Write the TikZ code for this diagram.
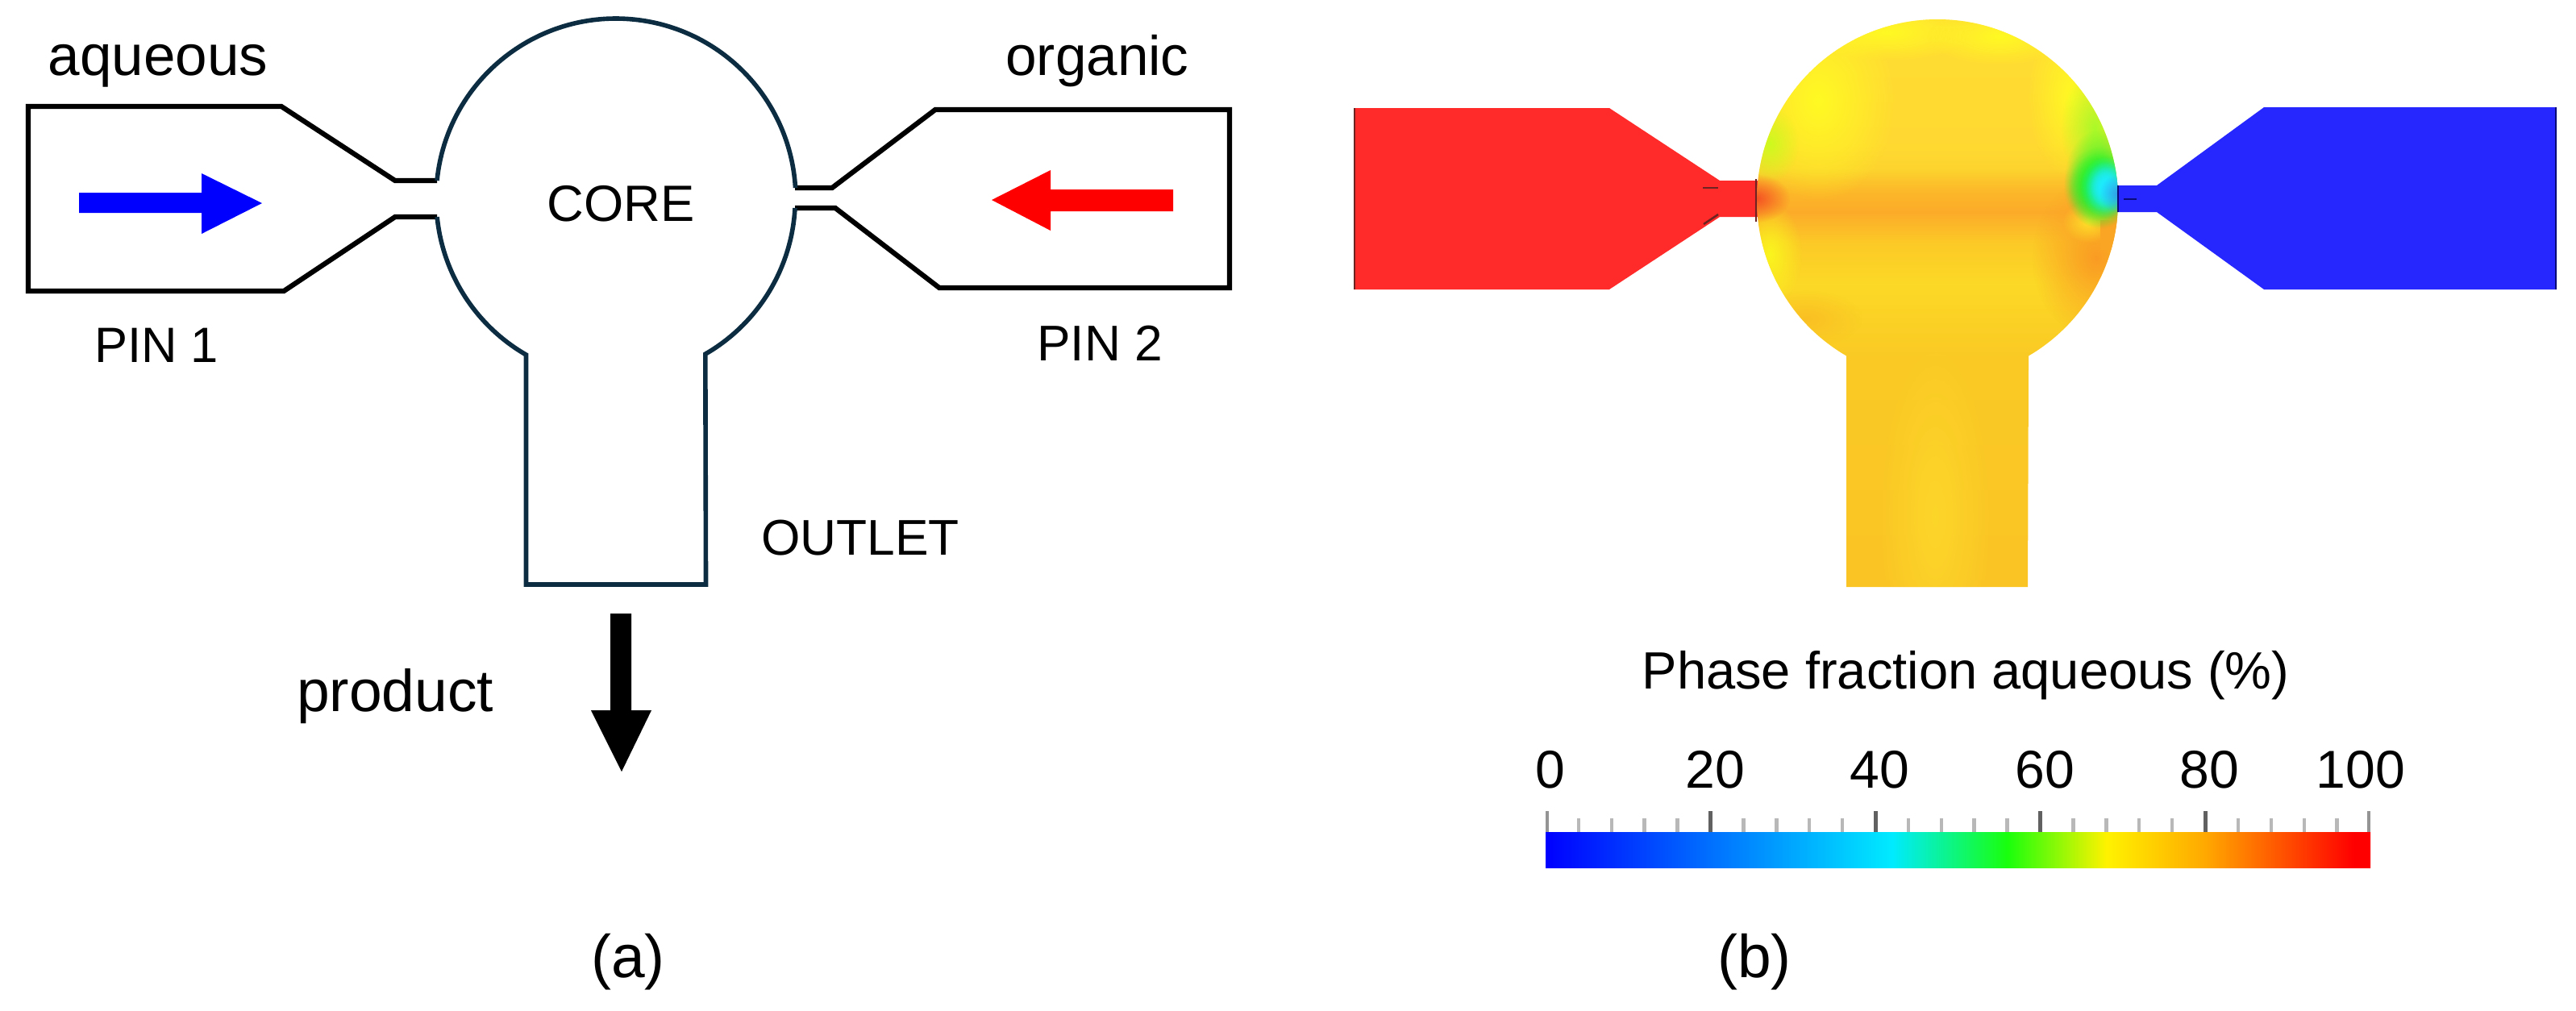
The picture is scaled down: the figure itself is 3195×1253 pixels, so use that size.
\documentclass[tikz,border=0pt]{standalone}
\usepackage{fontspec}
\setmainfont{Liberation Sans}
\usetikzlibrary{fadings}
\definecolor{navy}{RGB}{12,45,65}
\definecolor{simred}{RGB}{255,42,42}
\definecolor{simblue}{RGB}{38,38,255}
\definecolor{edgered}{RGB}{110,35,35}
\definecolor{edgeblue}{RGB}{10,10,120}
\definecolor{gA}{RGB}{253,214,42}
\definecolor{gB}{RGB}{255,250,35}
\definecolor{gC}{RGB}{205,250,30}
\definecolor{gD}{RGB}{250,245,30}
\definecolor{gE}{RGB}{250,192,35}
\definecolor{gF}{RGB}{250,155,35}
\definecolor{gG}{RGB}{170,250,40}
\definecolor{gH}{RGB}{255,225,40}
\definecolor{gI}{RGB}{250,165,35}
\definecolor{gJ}{RGB}{20,245,45}
\definecolor{gK}{RGB}{30,235,255}
\definecolor{gL}{RGB}{50,160,235}
\definecolor{gM}{RGB}{245,80,35}
\tikzfading[name=blob, inner color=transparent!0, outer color=transparent!100]
\pgfdeclarehorizontalshading{barscale}{100bp}{
 rgb(0bp)=(0,0,1); rgb(25bp)=(0,0,1);
 rgb(46bp)=(0,.92,1); rgb(53bp)=(.1,1,.05); rgb(59bp)=(1,.95,0);
 rgb(65bp)=(1,.66,0); rgb(74bp)=(1,0,0); rgb(75bp)=(1,0,0); rgb(100bp)=(1,0,0)}
\pgfdeclareverticalshading{simbody}{100bp}{
 rgb(0bp)=(.98,.77,.14); rgb(25bp)=(.98,.77,.14); rgb(45.3bp)=(.98,.79,.14);
 rgb(51.7bp)=(.99,.85,.15); rgb(55.3bp)=(.99,.79,.15); rgb(57.1bp)=(.99,.71,.16);
 rgb(58.0bp)=(.99,.67,.16); rgb(59.6bp)=(.99,.71,.16); rgb(60.8bp)=(.99,.77,.17); rgb(61.8bp)=(.99,.83,.18);
 rgb(63.9bp)=(1,.85,.19); rgb(75bp)=(1,.87,.2); rgb(100bp)=(1,.87,.2)}
\tikzset{
  x=0.01cm,y=-0.01cm,
  txt/.style={inner sep=0pt,anchor=base,text=black,font=\fontsize{#1}{#1}\selectfont},
  pin/.style={line width=0.062cm,draw=black,line join=miter},
  core/.style={line width=0.056cm,draw=navy,line join=miter},
  glow/.style={fill=#1,path fading=blob},
  seam/.style={line width=0.025cm,draw=#1},
  minor/.style={line width=0.045cm,draw=black!28},
  major/.style={line width=0.05cm,draw=black!62},
  endtick/.style={line width=0.04cm,draw=black!42}
}
\begin{document}
\begin{tikzpicture}
\useasboundingbox (0,0) rectangle (3195,1253);
% ---- (a) schematic
\draw[pin] (542,224) -- (490,224) -- (349,132) -- (35,132) -- (35,361) -- (352,361) -- (490,269) -- (542,269);
\draw[pin] (986,233) -- (1032,233) -- (1160,136) -- (1525,136) -- (1525,357) -- (1165,357) -- (1036,258) -- (986,258);
\draw[core] (542,224) arc[start angle=185.66,end angle=356.65,radius=223];
\draw[core] (986,258) arc[start angle=3.09,end angle=60,radius=223] -- (875.5,725) -- (652.5,725) -- (652.5,440) arc[start angle=120,end angle=174.3,radius=223];
\fill[blue] (98,239) -- (250,239) -- (250,215) -- (325,252) -- (250,290) -- (250,264) -- (98,264) -- cycle;
\fill[red] (1455,235) -- (1303,235) -- (1303,211) -- (1230,248) -- (1303,286) -- (1303,262) -- (1455,262) -- cycle;
\fill[black] (757,761) -- (783,761) -- (783,881) -- (808,881) -- (771,957) -- (733,881) -- (757,881) -- cycle;
\node[txt=20.2] (aq) at (196,93) {aqueous};
\node[txt=19.7] (org) at (1361,93) {organic};
\node[txt=17.5] (p1) at (194,449) {PIN 1};
\node[txt=17.7] (p2) at (1364,447) {PIN 2};
\node[txt=18] (corel) at (770,274) {CORE};
\node[txt=17.7] (outl) at (1067,688) {OUTLET};
\node[txt=20.8] (prod) at (490,882) {product};
\node[txt=21.3] (la) at (779,1212) {(a)};
\node[txt=21.3] (lb) at (2176,1212) {(b)};
% ---- (b) simulation
\fill[simred] (1679,134) -- (1996,134) -- (2133,224) -- (2185,224) -- (2185,269) -- (2133,269) -- (1996,359) -- (1679,359) -- cycle;
\fill[simblue] (3171,133) -- (2808,133) -- (2675,230) -- (2620,230) -- (2620,263) -- (2675,263) -- (2808,359) -- (3171,359) -- cycle;
\begin{scope}
\clip (2290,441.4) arc[start angle=120.3,end angle=419.7,radius=224] -- (2515,728) -- (2290,728) -- cycle;
\shade[shading=simbody] (2170,24) rectangle (2640,728);
\fill[glow=gA] (2400,640) ellipse[x radius=70,y radius=220];
\fill[glow=gB] (2255,125) ellipse[x radius=95,y radius=125];
\fill[glow=gB] (2340,40) ellipse[x radius=110,y radius=35];
\fill[glow=gB] (2480,45) ellipse[x radius=90,y radius=35];
\fill[glow=gC] (2195,178) ellipse[x radius=36,y radius=48];
\fill[glow=gD] (2195,315) ellipse[x radius=40,y radius=65];
\fill[glow=gE] (2240,395) ellipse[x radius=70,y radius=35];
\fill[glow=gF] (2600,320) ellipse[x radius=80,y radius=100];
\fill[glow=gB] (2570,120) ellipse[x radius=55,y radius=100];
\fill[glow=gG] (2598,160) ellipse[x radius=42,y radius=75];
\fill[glow=gH] (2590,275) ellipse[x radius=32,y radius=26];
\fill[gI] (2605,273) rectangle (2635,310);
\fill[glow=gJ] (2605,222) ellipse[x radius=45,y radius=62];
\fill[glow=gJ] (2603,232) ellipse[x radius=44,y radius=50];
\fill[glow=gJ] (2603,232) ellipse[x radius=38,y radius=42];
\fill[glow=gK] (2612,232) ellipse[x radius=32,y radius=38];
\fill[glow=gK] (2612,232) ellipse[x radius=26,y radius=32];
\fill[glow=gK] (2612,232) ellipse[x radius=20,y radius=26];
\fill[glow=gL] (2626,240) ellipse[x radius=22,y radius=24];
\fill[glow=gM] (2178,246) ellipse[x radius=42,y radius=30];
\end{scope}
\draw[seam=edgered] (1680,134) -- (1680,359);
\draw[seam=edgered] (2178,222) -- (2178,275);
\draw[seam=edgered] (2112,233) -- (2131,233);
\draw[seam=edgered] (2113,278) -- (2131,266);
\draw[seam=edgeblue] (3170,133) -- (3170,359);
\draw[seam=edgeblue] (2627,230) -- (2627,263);
\draw[seam=edgeblue] (2634,247) -- (2650,247);
% ---- colour bar
\node[txt=18.5] (title) at (2438,854) {Phase fraction aqueous (\%)};
\foreach \i in {1,...,24}{
  \pgfmathtruncatemacro{\m}{mod(\i,5)}
  \pgfmathsetmacro{\tx}{1917+\i*40.9}
  \ifnum\m=0
    \draw[major] (\tx,1006) -- (\tx,1032);
  \else
    \draw[minor] (\tx,1015) -- (\tx,1032);
  \fi
}
\draw[endtick] (1919,1006) -- (1919,1032);
\draw[endtick] (2938,1006) -- (2938,1032);
\shade[shading=barscale] (1917,1032) rectangle (2940,1076);
\node[txt=18.8] (v0) at (1923,977) {0};
\node[txt=18.8] (v20) at (2127,977) {20};
\node[txt=18.8] (v40) at (2331,977) {40};
\node[txt=18.8] (v60) at (2536,977) {60};
\node[txt=18.8] (v80) at (2740,977) {80};
\node[txt=18.8] (v100) at (2928,977) {100};
\end{tikzpicture}
\end{document}
